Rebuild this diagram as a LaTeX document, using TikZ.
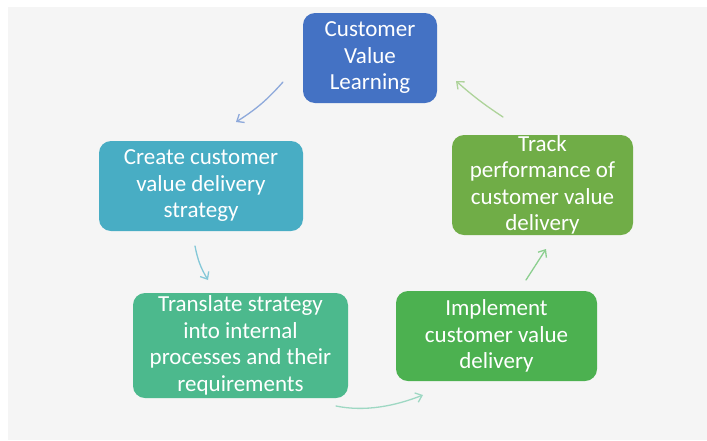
\documentclass[tikz,border=0pt]{standalone}
\usepackage{fontspec}
\setmainfont{Carlito}
\usetikzlibrary{arrows.meta}

\definecolor{pagegrey}{HTML}{F5F5F5}
\definecolor{cvlblue}{HTML}{4472C4}
\definecolor{createteal}{HTML}{48ADC4}
\definecolor{translategreen}{HTML}{4CB98D}
\definecolor{implgreen}{HTML}{4CB150}
\definecolor{trackgreen}{HTML}{70AD47}
\definecolor{arrblue}{HTML}{8EA9DB}
\definecolor{arrteal}{HTML}{84C8D8}
\definecolor{arrsea}{HTML}{9ED8C3}
\definecolor{arrgreen}{HTML}{8CCF8F}
\definecolor{arrlime}{HTML}{AED39A}

\tikzset{
  stepbox/.style={rounded corners=12pt, inner sep=0pt, align=center,
    text=white, font=\fontsize{23}{26.5}\selectfont},
  flow/.style={line width=1.3pt, line cap=round,
    -{Straight Barb[length=6pt,width=10pt,line width=1.3pt]}},
}

\begin{document}
\begin{tikzpicture}[x=1pt,y=-1pt]
  \useasboundingbox (0,0) rectangle (707,440);
  \fill[white] (0,0) rectangle (707,440);
  \fill[pagegrey] (8,7) rectangle (707,440);

  % process steps
  \node[stepbox, fill=cvlblue, minimum width=134pt, minimum height=90pt]
    (cvl) at (370,58) {Customer\\Value\\Learning};
  \node[stepbox, fill=createteal, minimum width=204pt, minimum height=90pt]
    (create) at (201,186) {Create customer\\value delivery\\strategy};
  \node[stepbox, fill=translategreen, minimum width=215pt, minimum height=105pt]
    (translate) at (240.5,345.5) {Translate strategy\\into internal\\processes and their\\requirements};
  \node[stepbox, fill=implgreen, minimum width=201pt, minimum height=90pt]
    (implement) at (496.5,336) {Implement\\customer value\\delivery};
  \node[stepbox, fill=trackgreen, minimum width=181pt, minimum height=100pt]
    (track) at (542.5,185) {Track\\performance of\\customer value\\delivery};

  % arrow end points between the steps
  \coordinate (c1s) at (283,82);   \coordinate (c1e) at (236,122);
  \coordinate (c2s) at (195,246);  \coordinate (c2e) at (208,280);
  \coordinate (c3s) at (336,406);  \coordinate (c3e) at (423,395);
  \coordinate (c4s) at (526,280);  \coordinate (c4e) at (546,249);
  \coordinate (c5s) at (503,117);  \coordinate (c5e) at (456,81);

  \draw[flow, arrblue] (c1s) to[bend left=8] (c1e);
  \draw[flow, arrteal] (c2s) to[bend right=10] (c2e);
  \draw[flow, arrsea] (c3s) .. controls (365,412) and (395,406) .. (c3e);
  \draw[flow, arrgreen] (c4s) -- (c4e);
  \draw[flow, arrlime] (c5s) to[bend left=4] (c5e);
\end{tikzpicture}
\end{document}
